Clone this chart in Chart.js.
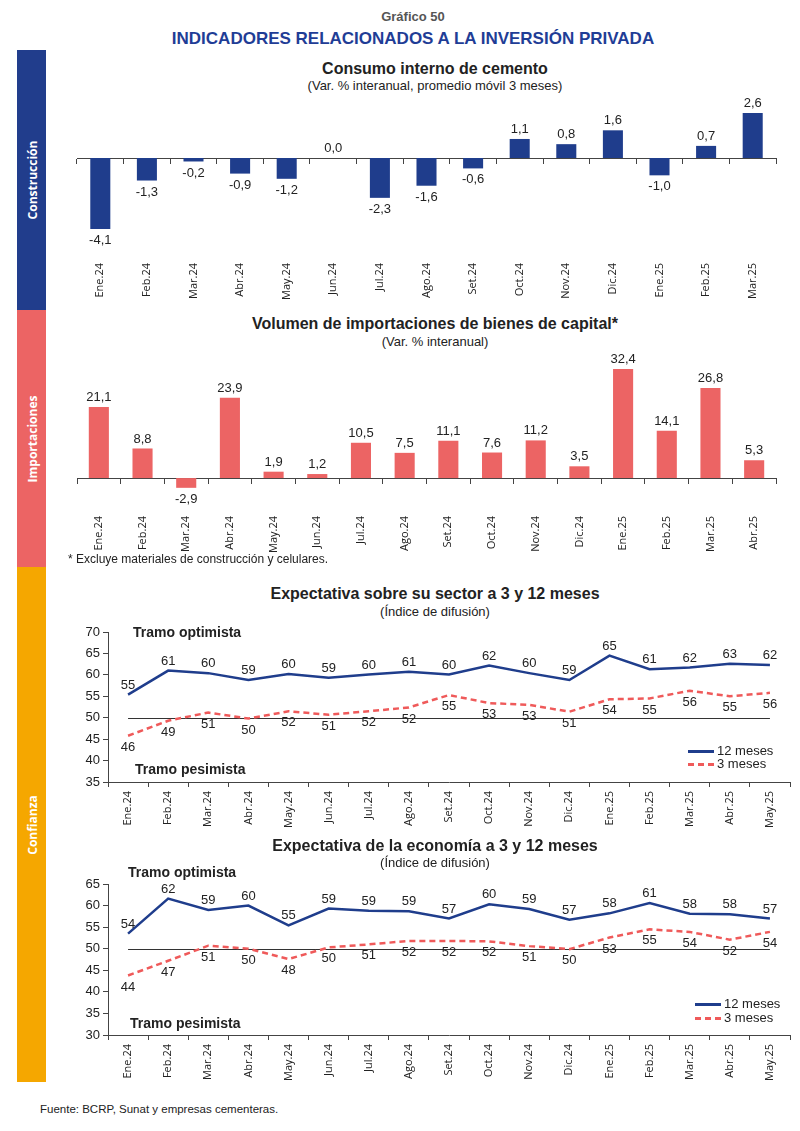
<!DOCTYPE html>
<html lang="es">
<head>
<meta charset="utf-8">
<script src="https://cdn.jsdelivr.net/npm/chart.js@4.4.1/dist/chart.umd.min.js"></script>
<style>
body { margin:0; width:800px; height:1131px; background:#fff; position:relative; overflow:hidden;
       font-family:"Liberation Sans Narrow","Liberation Sans",sans-serif; color:#222; }
.side { position:absolute; left:17px; width:29px; }
.side span { position:absolute; left:50%; top:50%; transform:translate(-50%,-50%) rotate(-90deg);
             color:#fff; font:bold 12px "Open Sans",sans-serif; white-space:nowrap; }
.t { position:absolute; line-height:1; white-space:nowrap; }
.ttl { left:60px; width:750px; text-align:center; font-weight:bold; font-size:16px; }
.sub { left:60px; width:750px; text-align:center; font-size:13px; }
.tramo { font-weight:bold; font-size:14px; }
.box { position:absolute; }
.leg { position:absolute; font-size:13px; line-height:1; }
.leg i { display:inline-block; width:26px; height:0; vertical-align:middle; margin-right:3px; }
</style>
</head>
<body>
<div class="side" style="top:50px;height:260px;background:#213d8c"><span>Construcción</span></div>
<div class="side" style="top:310px;height:257px;background:#ec6464"><span>Importaciones</span></div>
<div class="side" style="top:567px;height:515px;background:#f5a700"><span>Confianza</span></div>

<div class="t" style="left:26px;width:774px;text-align:center;top:10px;font-size:13px;font-weight:bold;color:#555">Gráfico 50</div>
<div class="t" style="left:26px;width:774px;text-align:center;top:30px;font-size:17px;font-weight:bold;color:#1f3d96">INDICADORES RELACIONADOS A LA INVERSIÓN PRIVADA</div>

<div class="t ttl" style="top:61px">Consumo interno de cemento</div>
<div class="t sub" style="top:79px">(Var. % interanual, promedio móvil 3 meses)</div>
<div class="box" style="left:60px;top:95px;width:730px;height:215px"><canvas id="c1"></canvas></div>

<div class="t ttl" style="top:316px">Volumen de importaciones de bienes de capital*</div>
<div class="t sub" style="top:335px">(Var. % interanual)</div>
<div class="box" style="left:60px;top:350px;width:730px;height:210px"><canvas id="c2"></canvas></div>
<div class="t" style="left:68px;top:553px;font-size:12px">* Excluye materiales de construcción y celulares.</div>

<div class="t ttl" style="top:586px">Expectativa sobre su sector a 3 y 12 meses</div>
<div class="t sub" style="top:605px">(Índice de difusión)</div>
<div class="box" style="left:60px;top:620px;width:740px;height:220px"><canvas id="c3"></canvas></div>
<div class="t tramo" style="left:133px;top:625px">Tramo optimista</div>
<div class="t tramo" style="left:135px;top:762px">Tramo pesimista</div>
<div class="leg" style="left:688px;top:744px"><i style="border-top:3px solid #1f3d8c"></i>12 meses</div>
<div class="leg" style="left:688px;top:757px"><i style="border-top:3px dashed #ef5a5a"></i>3 meses</div>

<div class="t ttl" style="top:838px">Expectativa de la economía a 3 y 12 meses</div>
<div class="t sub" style="top:856px">(Índice de difusión)</div>
<div class="box" style="left:60px;top:870px;width:740px;height:220px"><canvas id="c4"></canvas></div>
<div class="t tramo" style="left:128px;top:865px">Tramo optimista</div>
<div class="t tramo" style="left:130px;top:1016px">Tramo pesimista</div>
<div class="leg" style="left:695px;top:997px"><i style="border-top:3px solid #1f3d8c"></i>12 meses</div>
<div class="leg" style="left:695px;top:1011px"><i style="border-top:3px dashed #ef5a5a"></i>3 meses</div>

<div class="t" style="left:40px;top:1104px;font-size:11.5px">Fuente: BCRP, Sunat y empresas cementeras.</div>

<script>
// datos
const mesesCemento = ['Ene.24','Feb.24','Mar.24','Abr.24','May.24','Jun.24','Jul.24','Ago.24','Set.24','Oct.24','Nov.24','Dic.24','Ene.25','Feb.25','Mar.25'];
const cemento = [-4.1, -1.3, -0.2, -0.9, -1.2, 0.0, -2.3, -1.6, -0.6, 1.1, 0.8, 1.6, -1.0, 0.7, 2.6];

const mesesImport = ['Ene.24','Feb.24','Mar.24','Abr.24','May.24','Jun.24','Jul.24','Ago.24','Set.24','Oct.24','Nov.24','Dic.24','Ene.25','Feb.25','Mar.25','Abr.25'];
const importaciones = [21.1, 8.8, -2.9, 23.9, 1.9, 1.2, 10.5, 7.5, 11.1, 7.6, 11.2, 3.5, 32.4, 14.1, 26.8, 5.3];

const mesesConf = ['Ene.24','Feb.24','Mar.24','Abr.24','May.24','Jun.24','Jul.24','Ago.24','Set.24','Oct.24','Nov.24','Dic.24','Ene.25','Feb.25','Mar.25','Abr.25','May.25'];
const sector12 = [55.4, 61.0, 60.4, 58.8, 60.2, 59.3, 60.1, 60.7, 60.1, 62.2, 60.4, 58.8, 64.5, 61.3, 61.7, 62.6, 62.3];
const sector3  = [45.8, 49.3, 51.2, 49.8, 51.5, 50.7, 51.5, 52.4, 55.3, 53.4, 53.0, 51.4, 54.3, 54.5, 56.3, 55.0, 55.8];
const econ12 = [53.5, 61.6, 59.0, 60.0, 55.4, 59.3, 58.8, 58.7, 57.0, 60.3, 59.2, 56.7, 58.2, 60.6, 58.1, 58.0, 57.0];
const econ3  = [43.8, 47.2, 50.7, 50.0, 47.6, 50.3, 51.0, 51.8, 51.8, 51.7, 50.6, 49.9, 52.6, 54.5, 53.9, 52.1, 53.9];

const AZUL = '#1f3d8c';
const ROJO = '#ec6464';
const NARROW = '"Liberation Sans Narrow", "Liberation Sans", sans-serif';
const tickFont = { family: '"Open Sans", sans-serif', size: 11 };

const fmt1 = v => v.toFixed(1).replace('.', ',');
const fmt0 = v => String(Math.round(v));

// etiquetas de valores
const valueLabels = {
    id: 'valueLabels',
    afterDatasetsDraw(chart, args, opts) {
        const ctx = chart.ctx;
        ctx.save();
        ctx.font = '13px ' + NARROW;
        ctx.fillStyle = '#222';
        ctx.textAlign = 'center';
        chart.data.datasets.forEach((ds, i) => {
            const meta = chart.getDatasetMeta(i);
            meta.data.forEach((el, j) => {
                const v = ds.data[j];
                let below = meta.type === 'bar' ? v < 0 : ds.labelPos === 'below';
                ctx.textBaseline = below ? 'top' : 'bottom';
                const y = below ? el.y + 5 : el.y - 3;
                ctx.fillText(opts.format(v), el.x, y);
            });
        });
        ctx.restore();
    }
};

// linea en 50
const linea50 = {
    id: 'linea50',
    beforeDatasetsDraw(chart) {
        if (chart.config.type !== 'line') return;
        const x = chart.scales.x, y = chart.scales.y;
        const ctx = chart.ctx;
        const py = Math.round(y.getPixelForValue(50)) + 0.5;
        ctx.save();
        ctx.strokeStyle = '#333';
        ctx.lineWidth = 1;
        ctx.beginPath();
        ctx.moveTo(x.getPixelForValue(0), py);
        ctx.lineTo(x.getPixelForValue(x.getLabels().length - 1), py);
        ctx.stroke();
        ctx.restore();
    }
};

Chart.register(valueLabels, linea50);

function barras(id, labels, data, color, min, max, barPct, pad, labH) {
    new Chart(document.getElementById(id), {
        type: 'bar',
        data: {
            labels: labels,
            datasets: [{ data: data, backgroundColor: color, xAxisID: 'x', barPercentage: barPct, categoryPercentage: 1 }]
        },
        options: {
            responsive: true, maintainAspectRatio: false, animation: false,
            layout: { padding: pad },
            plugins: { legend: { display: false }, tooltip: { enabled: false }, valueLabels: { format: fmt1 } },
            scales: {
                x: {
                    axis: 'x', position: { y: 0 }, offset: true,
                    grid: { offset: true, drawOnChartArea: false, tickLength: 5, color: '#444' },
                    border: { color: '#444' },
                    ticks: { display: false },
                    afterFit: s => { s.height = 0; }
                },
                xl: {
                    axis: 'x', type: 'category', position: 'bottom', labels: labels, offset: true,
                    grid: { display: false }, border: { display: false },
                    ticks: { minRotation: 90, maxRotation: 90, font: tickFont, color: '#222', padding: 0 },
                    afterFit: s => { s.height = labH; }
                },
                y: { display: false, min: min, max: max }
            }
        }
    });
}

barras('c1', mesesCemento, cemento, AZUL, -5.6, 3.35, 0.43, { left: 17, right: 14, top: 5, bottom: 5 }, 50);
barras('c2', mesesImport, importaciones, ROJO, -8.9, 36.6, 0.46, { left: 17, right: 14, top: 5, bottom: 5 }, 47);

function lineas(id, s12, s3, min, max, pad, labH) {
    new Chart(document.getElementById(id), {
        type: 'line',
        data: {
            labels: mesesConf,
            datasets: [
                { label: '12 meses', data: s12, borderColor: AZUL, borderWidth: 2.5, pointRadius: 0, tension: 0, labelPos: 'above' },
                { label: '3 meses', data: s3, borderColor: '#ef5a5a', borderWidth: 2.5, borderDash: [6, 4], pointRadius: 0, tension: 0, labelPos: 'below' }
            ]
        },
        options: {
            responsive: true, maintainAspectRatio: false, animation: false,
            layout: { padding: pad },
            plugins: { legend: { display: false }, tooltip: { enabled: false }, valueLabels: { format: fmt0 } },
            scales: {
                x: {
                    offset: true,
                    grid: { offset: true, drawOnChartArea: false, tickLength: 5, color: '#444' },
                    border: { color: '#444' },
                    ticks: { minRotation: 90, maxRotation: 90, font: tickFont, color: '#222', padding: 4 },
                    afterFit: s => { s.height = labH; }
                },
                y: {
                    min: min, max: max,
                    grid: { drawOnChartArea: false, tickLength: 5, color: '#444' },
                    border: { color: '#444' },
                    ticks: { stepSize: 5, font: { family: NARROW, size: 13 }, color: '#222', padding: 3 },
                    afterFit: s => { s.width = 40; }
                }
            }
        }
    });
}

lineas('c3', sector12, sector3, 35, 70, { left: 8, right: 10, top: 12, bottom: 10 }, 48);
lineas('c4', econ12, econ3, 30, 65, { left: 8, right: 10, top: 14, bottom: 10 }, 45);
</script>
</body>
</html>
